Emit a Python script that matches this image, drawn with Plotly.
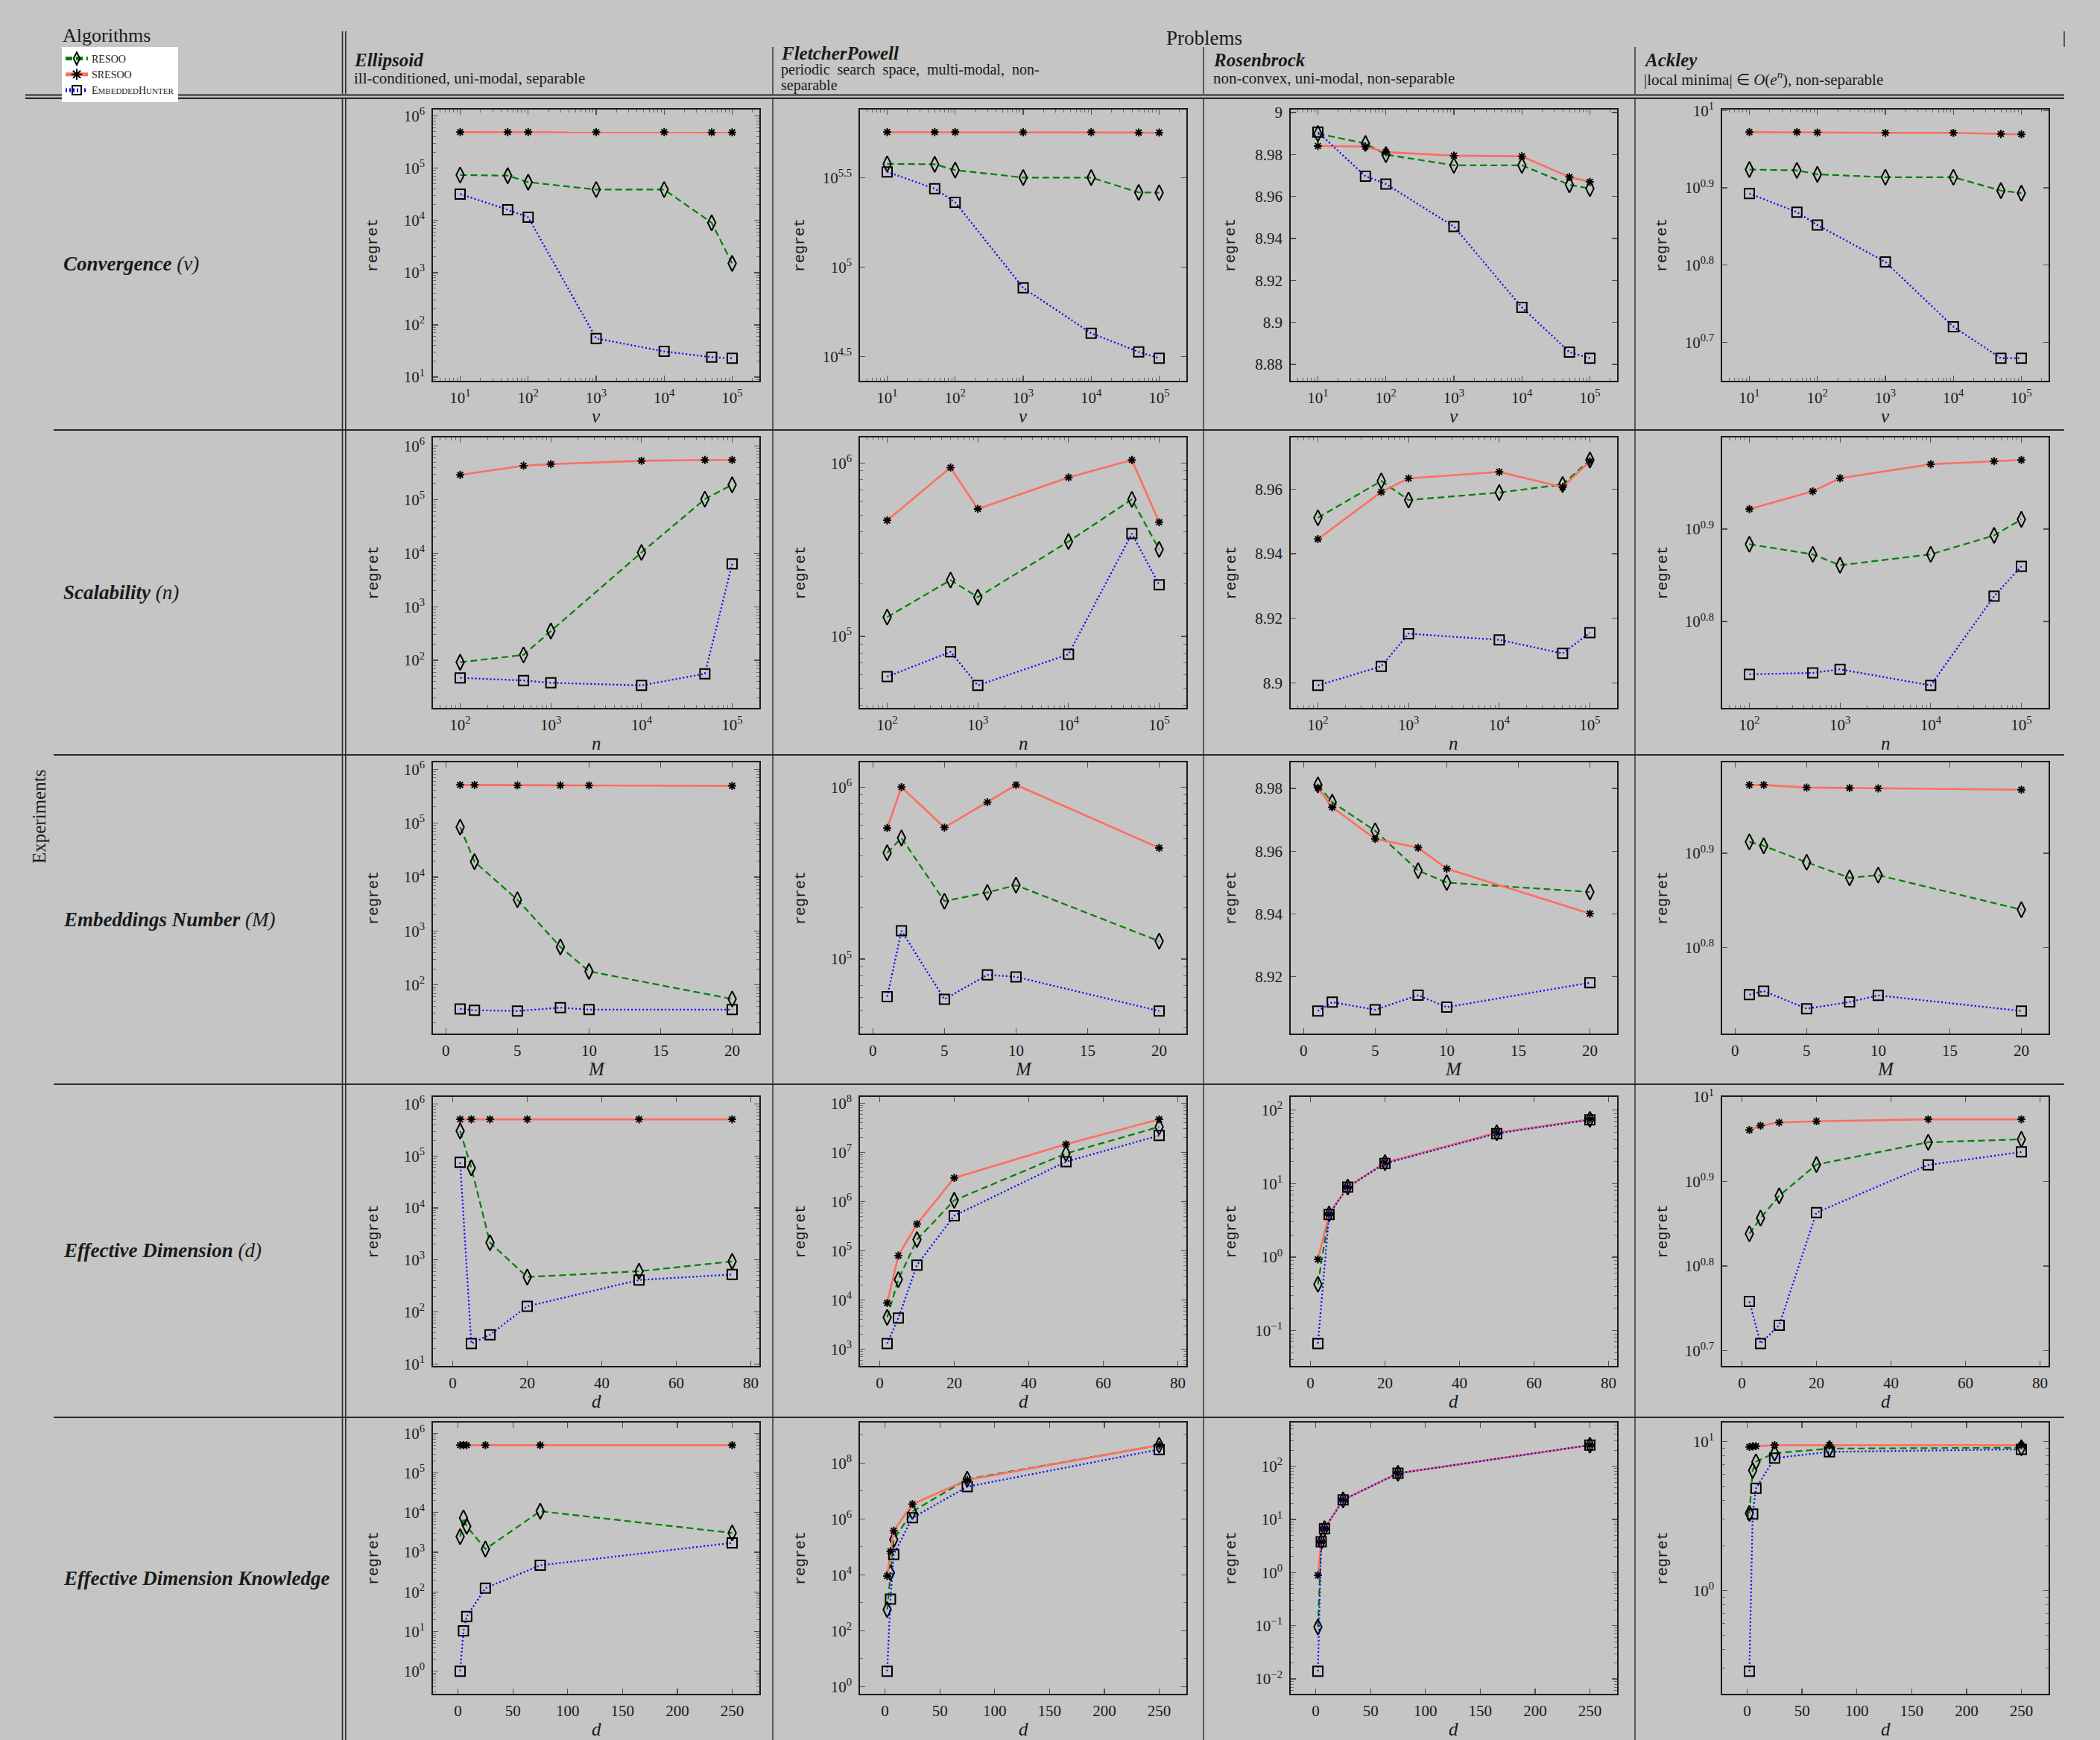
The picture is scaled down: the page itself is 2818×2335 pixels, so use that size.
import math
import plotly.graph_objects as go

W, H = 2818, 2335
BG = "#c4c5c4"
INK = "#1a1a1a"
SERIF = "Liberation Serif"
MONO = "Liberation Mono"

# ---------------- x values of each experiment ----------------
conv_v = [10, 50, 100, 1000, 10000, 50000, 100000]
scal_n = [100, 500, 1000, 10000, 50000, 100000]
emb_M = [1, 2, 5, 8, 10, 20]
eff_d = [2, 5, 10, 20, 50, 75]
effk_d = [2, 5, 8, 25, 75, 250]

# x tick labels (exponents for log axes, values for linear axes)
conv_xticks = [1, 2, 3, 4, 5]
scal_xticks = [2, 3, 4, 5]
emb_xticks = [0, 5, 10, 15, 20]
eff_xticks = [0, 20, 40, 60, 80]
effk_xticks = [0, 50, 100, 150, 200, 250]

# ---------------- Convergence (v) ----------------
conv_ellipsoid_resoo = [7.4e4, 7.2e4, 5.4e4, 3.9e4, 3.9e4, 9.0e3, 1.5e3]
conv_ellipsoid_sresoo = [4.9e5, 4.9e5, 4.9e5, 4.9e5, 4.9e5, 4.85e5, 4.85e5]
conv_ellipsoid_eh = [3.2e4, 1.6e4, 1.15e4, 55, 31, 24, 23]

conv_fletcher_resoo = [3.77e5, 3.75e5, 3.48e5, 3.16e5, 3.16e5, 2.61e5, 2.60e5]
conv_fletcher_sresoo = [5.67e5, 5.67e5, 5.67e5, 5.66e5, 5.66e5, 5.64e5, 5.64e5]
conv_fletcher_eh = [3.40e5, 2.74e5, 2.30e5, 7.64e4, 4.26e4, 3.35e4, 3.09e4]

conv_rosenbrock_resoo = [8.990, 8.9853, 8.980, 8.9749, 8.9749, 8.9656, 8.9638]
conv_rosenbrock_sresoo = [8.9841, 8.9838, 8.9812, 8.9795, 8.9792, 8.9693, 8.967]
conv_rosenbrock_eh = [8.9907, 8.9697, 8.966, 8.9457, 8.9072, 8.8859, 8.883]

conv_ackley_resoo = [8.39, 8.37, 8.27, 8.20, 8.20, 7.88, 7.82]
conv_ackley_sresoo = [9.38, 9.38, 9.37, 9.36, 9.36, 9.33, 9.32]
conv_ackley_eh = [7.81, 7.39, 7.11, 6.37, 5.25, 4.78, 4.78]

# ---------------- Scalability (n) ----------------
scal_ellipsoid_resoo = [92, 126, 352, 1.03e4, 1.02e5, 1.9e5]
scal_ellipsoid_sresoo = [2.9e5, 4.3e5, 4.6e5, 5.3e5, 5.5e5, 5.5e5]
scal_ellipsoid_eh = [47, 42, 38, 34, 56, 6.3e3]

scal_fletcher_resoo = [1.29e5, 2.11e5, 1.68e5, 3.52e5, 6.16e5, 3.17e5]
scal_fletcher_sresoo = [4.66e5, 9.4e5, 5.43e5, 8.24e5, 1.04e6, 4.55e5]
scal_fletcher_eh = [5.85e4, 8.13e4, 5.21e4, 7.87e4, 3.91e5, 1.98e5]

scal_rosenbrock_resoo = [8.9511, 8.9625, 8.9566, 8.9589, 8.9614, 8.969]
scal_rosenbrock_sresoo = [8.9445, 8.9591, 8.9633, 8.9653, 8.9606, 8.9686]
scal_rosenbrock_eh = [8.8992, 8.9051, 8.9152, 8.9133, 8.9091, 8.9155]

scal_ackley_resoo = [7.65, 7.46, 7.26, 7.46, 7.82, 8.14]
scal_ackley_sresoo = [8.35, 8.73, 9.02, 9.34, 9.41, 9.44]
scal_ackley_eh = [5.53, 5.55, 5.60, 5.38, 6.72, 7.24]

# ---------------- Embeddings Number (M) ----------------
emb_ellipsoid_resoo = [8.4e4, 1.93e4, 3.8e3, 507, 179, 55]
emb_ellipsoid_sresoo = [5.1e5, 5.1e5, 5.0e5, 5.0e5, 5.0e5, 4.9e5]
emb_ellipsoid_eh = [36, 34, 33, 38, 35, 35]

emb_fletcher_resoo = [4.15e5, 5.06e5, 2.17e5, 2.44e5, 2.69e5, 1.27e5]
emb_fletcher_sresoo = [5.78e5, 1.0e6, 5.82e5, 8.18e5, 1.03e6, 4.43e5]
emb_fletcher_eh = [6.04e4, 1.46e5, 5.84e4, 8.09e4, 7.88e4, 4.99e4]

emb_rosenbrock_resoo = [8.9811, 8.9756, 8.9665, 8.9538, 8.950, 8.947]
emb_rosenbrock_sresoo = [8.9802, 8.974, 8.9639, 8.9611, 8.9544, 8.9401]
emb_rosenbrock_eh = [8.9091, 8.9119, 8.9095, 8.9141, 8.9103, 8.9181]

emb_ackley_resoo = [8.17, 8.09, 7.77, 7.48, 7.53, 6.92]
emb_ackley_sresoo = [9.39, 9.39, 9.33, 9.32, 9.31, 9.28]
emb_ackley_eh = [5.62, 5.67, 5.43, 5.52, 5.61, 5.40]

# ---------------- Effective Dimension (d) ----------------
eff_ellipsoid_resoo = [3.04e5, 5.93e4, 2.15e3, 469, 606, 935]
eff_ellipsoid_sresoo = [5.1e5, 5.1e5, 5.1e5, 5.1e5, 5.1e5, 5.1e5]
eff_ellipsoid_eh = [7.57e4, 24.6, 36.3, 128, 411, 525]

eff_fletcher_resoo = [4.45e3, 2.61e4, 1.69e5, 1.06e6, 9.5e6, 3.3e7]
eff_fletcher_sresoo = [8.7e3, 8.0e4, 3.5e5, 3.03e6, 1.46e7, 4.69e7]
eff_fletcher_eh = [1.31e3, 4.3e3, 5.14e4, 5.16e5, 6.47e6, 2.2e7]

eff_rosenbrock_resoo = [0.427, 3.86, 8.97, 19.3, 49.2, 75]
eff_rosenbrock_sresoo = [0.93, 3.86, 8.97, 19.3, 49.2, 75]
eff_rosenbrock_eh = [0.0667, 3.8, 8.97, 18.8, 48, 73.8]

eff_ackley_resoo = [6.89, 7.19, 7.64, 8.32, 8.84, 8.91]
eff_ackley_sresoo = [9.14, 9.25, 9.33, 9.36, 9.41, 9.41]
eff_ackley_eh = [5.73, 5.11, 5.37, 7.30, 8.31, 8.61]

# ---------------- Effective Dimension Knowledge ----------------
effk_ellipsoid_resoo = [2.47e3, 7.3e3, 4.5e3, 1.2e3, 1.08e4, 3.06e3]
effk_ellipsoid_sresoo = [5.0e5, 5.0e5, 5.0e5, 5.0e5, 5.0e5, 5.0e5]
effk_ellipsoid_eh = [1.0, 10.4, 24, 124, 467, 1.72e3]

effk_fletcher_resoo = [570, 1.18e4, 1.83e5, 1.85e6, 2.65e7, 4.4e8]
effk_fletcher_sresoo = [9.1e3, 7.0e4, 3.8e5, 3.4e6, 2.5e7, 4.4e8]
effk_fletcher_eh = [3.56, 1.35e3, 5.4e4, 1.1e6, 1.43e7, 3.08e8]

effk_rosenbrock_resoo = [0.095, 3.8, 6.7, 23.3, 73.6, 249]
effk_rosenbrock_sresoo = [0.89, 3.8, 6.7, 23.3, 73.6, 249]
effk_rosenbrock_eh = [0.014, 3.8, 6.7, 23.3, 73.6, 249]

effk_ackley_resoo = [3.29, 6.38, 7.3, 8.35, 8.95, 9.08]
effk_ackley_sresoo = [9.19, 9.26, 9.29, 9.44, 9.44, 9.44]
effk_ackley_eh = [0.287, 3.26, 4.84, 7.73, 8.51, 8.85]

# ---------------- y tick labels (exponents for log axes, values for linear) ----------------
yt_conv_ellipsoid = [1, 2, 3, 4, 5, 6]
yt_conv_fletcher = [4.5, 5, 5.5]
yt_conv_rosenbrock = [8.88, 8.9, 8.92, 8.94, 8.96, 8.98, 9]
yt_conv_ackley = [0.7, 0.8, 0.9, 1]
yt_scal_ellipsoid = [2, 3, 4, 5, 6]
yt_scal_fletcher = [5, 6]
yt_scal_rosenbrock = [8.9, 8.92, 8.94, 8.96]
yt_scal_ackley = [0.8, 0.9]
yt_emb_ellipsoid = [2, 3, 4, 5, 6]
yt_emb_fletcher = [5, 6]
yt_emb_rosenbrock = [8.92, 8.94, 8.96, 8.98]
yt_emb_ackley = [0.8, 0.9]
yt_eff_ellipsoid = [1, 2, 3, 4, 5, 6]
yt_eff_fletcher = [3, 4, 5, 6, 7, 8]
yt_eff_rosenbrock = [-1, 0, 1, 2]
yt_eff_ackley = [0.7, 0.8, 0.9, 1]
yt_effk_ellipsoid = [0, 1, 2, 3, 4, 5, 6]
yt_effk_fletcher = [0, 2, 4, 6, 8]
yt_effk_rosenbrock = [-2, -1, 0, 1, 2]
yt_effk_ackley = [0, 1]

# ---------------- texts ----------------
algorithm_names = ["RESOO", "SRESOO",
                   "E<span style='font-size:11px'>MBEDDED</span>H<span style='font-size:11px'>UNTER</span>"]
problem_titles = ["Ellipsoid", "FletcherPowell", "Rosenbrock", "Ackley"]
problem_subtitles = [
    ["ill-conditioned, uni-modal, separable"],
    ["periodic  search  space,  multi-modal,  non-", "separable"],
    ["non-convex, uni-modal, non-separable"],
    ["|local minima| ∈ <i>O</i>(<i>e</i><sup><i>n</i></sup>), non-separable"],
]
experiment_labels = [
    "<b><i>Convergence</i></b> <i>(v)</i>",
    "<b><i>Scalability</i></b> <i>(n)</i>",
    "<b><i>Embeddings Number</i></b> <i>(M)</i>",
    "<b><i>Effective Dimension</i></b> <i>(d)</i>",
    "<b><i>Effective Dimension Knowledge</i></b>",
]
x_titles = ["v", "n", "M", "d", "d"]

# ---------------- tables built from the arrays ----------------
EXPS = ["conv", "scal", "emb", "eff", "effk"]
PROBS = ["ellipsoid", "fletcher", "rosenbrock", "ackley"]
G = globals()
X_OF = {"conv": conv_v, "scal": scal_n, "emb": emb_M, "eff": eff_d, "effk": effk_d}
XT_OF = {"conv": conv_xticks, "scal": scal_xticks, "emb": emb_xticks, "eff": eff_xticks, "effk": effk_xticks}
XLOG = {"conv": True, "scal": True, "emb": False, "eff": False, "effk": False}
YLIN = {("conv", "rosenbrock"), ("scal", "rosenbrock"), ("emb", "rosenbrock")}

# ---------------- layout geometry (pixels) ----------------
COLX = [(581, 1019), (1154, 1592), (1732, 2170), (2311, 2749)]
ROWY = [(147, 511), (587, 950), (1023, 1387), (1472, 1833), (1909, 2273)]
COL_TEXT_X = [474, 1047, 1627, 2205]
ROW_CENTER = [354, 795, 1234, 1678, 2118]

STY = [
    dict(color="#008000", dash="9px,5px", width=2.2, symbol="diamond-tall-open", size=15),
    dict(color="#ff6e62", dash="solid", width=2.6, symbol="asterisk-open", size=9),
    dict(color="#0000ff", dash="2px,3px", width=2.2, symbol="square-open", size=13),
]


def px(x):
    return x / W


def py(y):
    return 1 - y / H


def rng(vals, log):
    v = [math.log10(t) if log else t for t in vals]
    lo, hi = min(v), max(v)
    pad = 0.1 * (hi - lo)
    return [lo - pad, hi + pad]


def exp_label(e):
    s = f"{e:g}".replace("-", "−")
    return f"10<sup>{s}</sup>"


def minor_vals(lo, hi, majors):
    if not all(float(e).is_integer() for e in majors) or len(majors) < 2:
        return []
    step = min(b - a for a, b in zip(majors, majors[1:]))
    out = []
    if step == 1:
        for n in range(math.floor(lo) - 1, math.ceil(hi) + 1):
            for k in range(2, 10):
                v = k * 10 ** n
                if lo <= math.log10(v) <= hi:
                    out.append(v)
    elif step == 2:
        for n in range(math.floor(lo), math.ceil(hi) + 1):
            if lo <= n <= hi and n not in majors:
                out.append(10 ** n)
    return out


def axis_spec(log, r, ticks, domain, anchor, is_y):
    lo, hi = r
    t = [e for e in ticks if lo - 1e-9 <= e <= hi + 1e-9]
    if log:
        tv = [10 ** e for e in t]
        tt = [exp_label(e) for e in t]
        mv = minor_vals(lo, hi, ticks)
    else:
        tv = t
        tt = [f"{e:g}" for e in t]
        mv = []
    d = dict(
        type="log" if log else "linear", range=[lo, hi], domain=domain, anchor=anchor,
        showline=True, linecolor=INK, linewidth=1.8, mirror="allticks",
        ticks="inside", ticklen=7, tickwidth=1.3, tickcolor="#505050",
        tickmode="array", tickvals=tv, ticktext=tt,
        showgrid=False, zeroline=False, automargin=False, fixedrange=True,
        tickfont=dict(family=SERIF, size=21, color=INK),
        ticklabelstandoff=5 if is_y else 3,
    )
    if mv:
        d["minor"] = dict(ticks="inside", ticklen=4, tickwidth=1, tickcolor="#6a6a6a",
                          showgrid=False, tickmode="array", tickvals=mv)
    return d


fig = go.Figure()
layout_axes = {}
annotations = []


def note(x, y, text, size, family=SERIF, xanchor="left", yanchor="middle", angle=0):
    annotations.append(dict(x=px(x), y=py(y), xref="paper", yref="paper", text=text,
                            showarrow=False, xanchor=xanchor, yanchor=yanchor, textangle=angle,
                            borderpad=0,
                            font=dict(family=family, size=size, color=INK)))


for ri, ek in enumerate(EXPS):
    for ci, pk in enumerate(PROBS):
        k = ri * 4 + ci + 1
        xn = "x" if k == 1 else f"x{k}"
        yn = "y" if k == 1 else f"y{k}"
        xs = X_OF[ek]
        series = [G[f"{ek}_{pk}_resoo"], G[f"{ek}_{pk}_sresoo"], G[f"{ek}_{pk}_eh"]]
        ylog = (ek, pk) not in YLIN
        xlog = XLOG[ek]
        for si, (st, vals) in enumerate(zip(STY, series)):
            fig.add_trace(go.Scatter(
                x=xs, y=vals, mode="lines+markers", xaxis=xn, yaxis=yn,
                name=algorithm_names[si], showlegend=(k == 1),
                line=dict(color=st["color"], width=st["width"], dash=st["dash"]),
                marker=dict(symbol=st["symbol"], size=st["size"], color="black",
                            line=dict(color="black", width=2)),
                hoverinfo="skip",
            ))
        x0, x1 = COLX[ci]
        y0, y1 = ROWY[ri]
        xr = rng(xs, xlog)
        yr = rng(series[0] + series[1] + series[2], ylog)
        layout_axes["xaxis" if k == 1 else f"xaxis{k}"] = axis_spec(
            xlog, xr, XT_OF[ek], [px(x0), px(x1)], yn, False)
        layout_axes["yaxis" if k == 1 else f"yaxis{k}"] = axis_spec(
            ylog, yr, G[f"yt_{ek}_{pk}"], [py(y1), py(y0)], xn, True)
        note(x0 - 80, (y0 + y1) / 2, "regret", 20, MONO, "center", "middle", -90)
        note((x0 + x1) / 2, y1 + 47, f"<i>{x_titles[ri]}</i>", 25, SERIF, "center", "middle")

# header texts
note(83, 47, "Algorithms", 26)
note(1616, 51, "Problems", 27, xanchor="center")
for ci in range(4):
    lines = problem_subtitles[ci]
    ty = 71 if len(lines) > 1 else 80
    note(COL_TEXT_X[ci], ty, f"<b><i>{problem_titles[ci]}</i></b>", 25)
    if len(lines) > 1:
        note(COL_TEXT_X[ci], 94, lines[0], 20)
        note(COL_TEXT_X[ci], 114, lines[1], 20)
    else:
        note(COL_TEXT_X[ci], 105, lines[0], 21)
for ri in range(5):
    note(84, ROW_CENTER[ri], experiment_labels[ri], 27)
note(52, 1096, "Experiments", 25, SERIF, "center", "middle", -90)

# table rules
shapes = []


def hline(y, xa, xb, w=2.0, c="#2a2a2a"):
    shapes.append(dict(type="line", xref="paper", yref="paper", x0=px(xa), x1=px(xb),
                       y0=py(y), y1=py(y), line=dict(color=c, width=w)))


def vline(x, ya, yb, w=1.6, c="#2a2a2a"):
    shapes.append(dict(type="line", xref="paper", yref="paper", x0=px(x), x1=px(x),
                       y0=py(ya), y1=py(yb), line=dict(color=c, width=w)))


hline(127.5, 34, 2770, 2.2)
hline(131.8, 34, 2770, 2.2)
for yy in (577, 1013, 1455, 1902):
    hline(yy, 72, 2770, 1.8)
for xx in (459.5, 463.8):
    vline(xx, 42, 126, 1.6)
    vline(xx, 133, H, 1.6)
for xx in (1037, 1615, 2194):
    vline(xx, 63, 126, 1.4)
    vline(xx, 133, H, 1.4)
vline(2770, 42, 63, 1.4)

fig.update_layout(
    width=W, height=H, margin=dict(l=0, r=0, t=0, b=0),
    paper_bgcolor=BG, plot_bgcolor=BG,
    annotations=annotations, shapes=shapes,
    legend=dict(x=px(83), y=py(63), xanchor="left", yanchor="top", bgcolor="white",
                borderwidth=0, font=dict(family=SERIF, size=14, color=INK),
                itemsizing="constant", tracegroupgap=0, itemwidth=30),
    **layout_axes,
)

fig.write_html(
    "out.html",
    config={"displayModeBar": False, "staticPlot": True},
    post_script="document.body.style.margin='0';document.body.style.padding='0';"
                "document.body.style.overflow='hidden';document.body.style.background='" + BG + "';",
)
